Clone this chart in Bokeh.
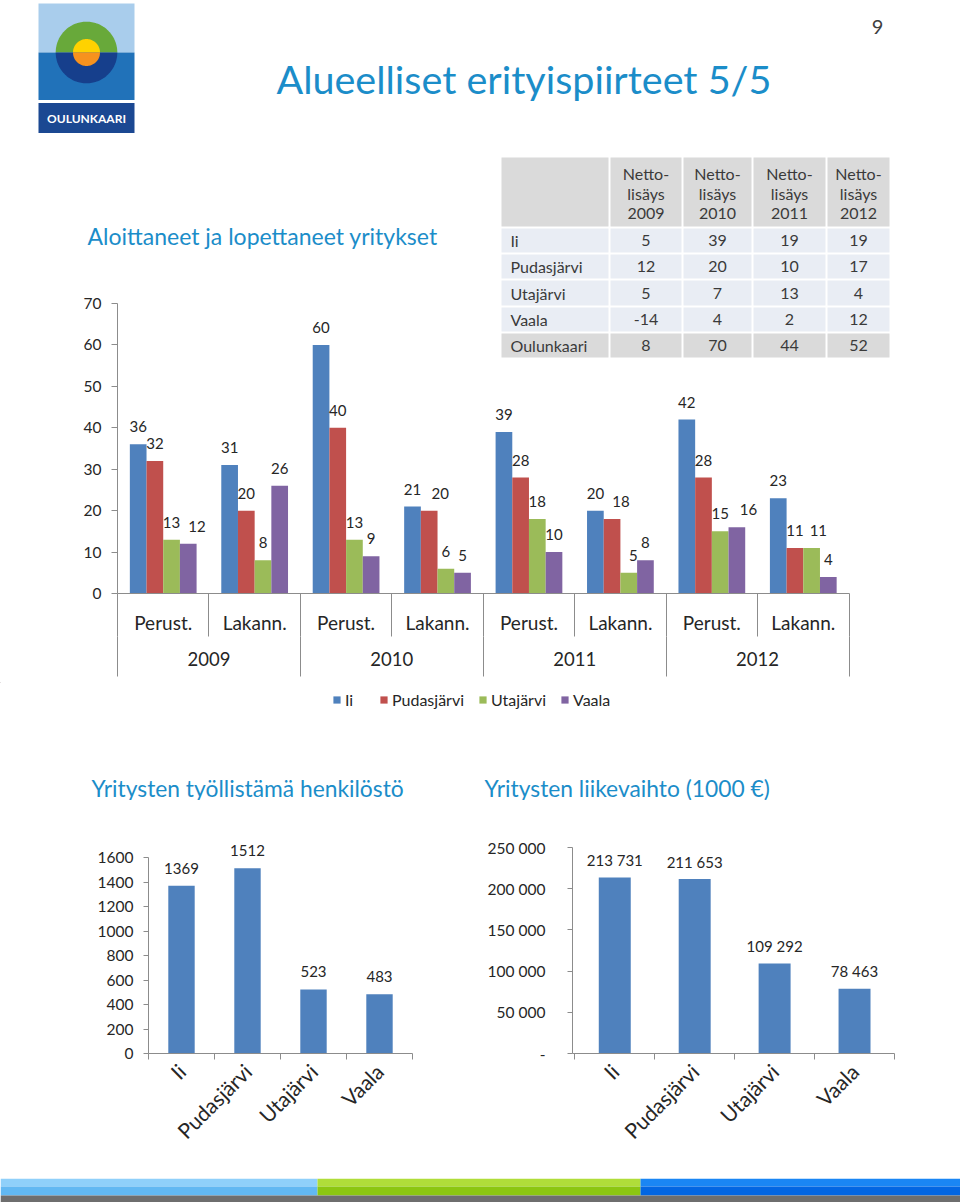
import numpy as np
from math import pi
from bokeh.plotting import figure
from bokeh.models import (Range1d, LinearAxis, FixedTicker, Legend, LegendItem, ColumnDataSource)
from bokeh.layouts import column, row
from bokeh.embed import file_html
from bokeh.resources import INLINE
from bokeh.core.properties import value

# ---------------------------------------------------------------- data
years = ["2009", "2010", "2011", "2012"]
event_types = ["Perust.", "Lakann."]
municipalities = ["Ii", "Pudasjärvi", "Utajärvi", "Vaala"]
# one value per (year, type) group: 2009 Perust., 2009 Lakann., 2010 Perust., ...
ii_counts = [36, 31, 60, 21, 39, 20, 42, 23]
pudasjarvi_counts = [32, 20, 40, 20, 28, 18, 28, 11]
utajarvi_counts = [13, 8, 13, 6, 18, 5, 15, 11]
vaala_counts = [12, 26, 9, 5, 10, 8, 16, 4]
main_y_ticks = [0, 10, 20, 30, 40, 50, 60, 70]

table_row_labels = ["Ii", "Pudasjärvi", "Utajärvi", "Vaala", "Oulunkaari"]
table_years = ["2009", "2010", "2011", "2012"]
netto_2009 = [5, 12, 5, -14, 8]
netto_2010 = [39, 20, 7, 4, 70]
netto_2011 = [19, 10, 13, 2, 44]
netto_2012 = [19, 17, 4, 12, 52]

employees = [1369, 1512, 523, 483]
employee_ticks = [0, 200, 400, 600, 800, 1000, 1200, 1400, 1600]
turnover = [213731, 211653, 109292, 78463]
turnover_ticks = [0, 50000, 100000, 150000, 200000, 250000]
turnover_tick_labels = ["-", "50 000", "100 000", "150 000", "200 000", "250 000"]

# ---------------------------------------------------------------- style / layout
FONT = "Lato"
TITLE_BLUE = "#1b8dc9"
TXT = "#262626"
TABLE_TXT = "#3a3a3a"
AXIS = "#8c8c8c"
series_colors = ["#4f81bd", "#c0504d", "#9bbb59", "#8064a2"]
PAGE_W = 960
# horizontal nudges (px) of crowded data labels, as in the original: (series, group) -> px
label_nudge = {(3, 0): 8.7, (1, 3): 11, (1, 5): 9, (2, 5): 4.7, (3, 6): 11.7, (2, 7): 6.7}


def base_fig(w, h, bl, br, bt, bb, xr, yr):
    p = figure(width=w, height=h, x_range=xr, y_range=yr, output_backend="svg",
               toolbar_location=None, x_axis_location=None, y_axis_location=None,
               min_border_left=bl, min_border_right=br, min_border_top=bt,
               min_border_bottom=bb)
    p.frame_align = False
    p.grid.visible = False
    p.outline_line_color = None
    p.border_fill_color = "white"
    p.background_fill_color = "white"
    return p


def pixel_fig(top, bottom):
    return base_fig(PAGE_W, bottom - top, 0, 0, 0, 0, Range1d(0, PAGE_W), Range1d(bottom, top))


def style_axis(ax, size, standoff):
    ax.axis_line_color = AXIS
    ax.major_tick_line_color = AXIS
    ax.minor_tick_line_color = AXIS
    ax.major_label_text_font = FONT
    ax.major_label_text_font_size = size
    ax.major_label_text_color = TXT
    ax.major_label_standoff = standoff
    ax.major_tick_in = 0
    ax.minor_tick_in = 0
    ax.minor_tick_out = 0


# ---------------------------------------------------------------- header
hdr = pixel_fig(0, 145)
hdr.quad(left=[38], right=[134], top=[3], bottom=[52], fill_color="#a9cdec", line_color=None)
hdr.quad(left=[38], right=[134], top=[52], bottom=[99.5], fill_color="#2172b9", line_color=None)
hdr.quad(left=[38], right=[134], top=[102.5], bottom=[132.5], fill_color="#1b4892", line_color=None)
cx, cy = 86, 52
th_up = np.linspace(0, pi, 80)
for r, c_up, c_dn in [(30.8, "#68a93a", "#163f8c"), (13.5, "#ffd200", "#f7921e")]:
    hdr.patch(list(cx + r * np.cos(th_up)), list(cy - r * np.sin(th_up)), fill_color=c_up, line_color=None)
    hdr.patch(list(cx + r * np.cos(th_up)), list(cy + r * np.sin(th_up)), fill_color=c_dn, line_color=None)
hdr.text(x=[86], y=[118], text=["OULUNKAARI"], text_align="center", text_baseline="middle",
         text_font=value(FONT), text_font_size="12px", text_font_style="bold", text_color="white")
hdr.text(x=[276], y=[78], text=["Alueelliset erityispiirteet 5/5"], text_align="left",
         text_baseline="middle", text_font=value(FONT), text_font_size="39.5px", text_color=TITLE_BLUE)
hdr.text(x=[877], y=[26], text=["9"], text_align="center", text_baseline="middle",
         text_font=value(FONT), text_font_size="20px", text_color="#404040")

# ---------------------------------------------------------------- table (split over two figures)
col_edges = [500, 609, 682, 752, 826, 890]
row_edges = [156, 227, 253, 279, 306, 332, 358]
col_centers = [(col_edges[i] + col_edges[i + 1]) / 2 for i in range(1, len(col_edges) - 1)]
row_centers = [(row_edges[i] + row_edges[i + 1]) / 2 for i in range(1, len(row_edges) - 1)]
table_values = [netto_2009, netto_2010, netto_2011, netto_2012]


def draw_table(p, rows, **rng):
    cells = dict(l=[], r=[], t=[], b=[], c=[])
    for ri in rows:
        for ci in range(len(col_edges) - 1):
            cells["l"].append(col_edges[ci] + 1)
            cells["r"].append(col_edges[ci + 1] - 1)
            cells["t"].append(row_edges[ri] + 1)
            cells["b"].append(row_edges[ri + 1] - 1)
            cells["c"].append("#dadada" if ri in (0, len(row_edges) - 2) else "#e9edf4")
    p.quad(left="l", right="r", top="t", bottom="b", fill_color="c", line_color=None,
           source=ColumnDataSource(cells), **rng)
    tx, ty, tt = [], [], []
    for ri in rows:
        if ri == 0:
            for cxx, yr_ in zip(col_centers, table_years):
                for yy, t in zip([173, 193, 213], ["Netto-", "lisäys", yr_]):
                    tx.append(cxx); ty.append(yy); tt.append(t)
            continue
        k = ri - 1
        yy = row_centers[k]
        p.text(x=[510], y=[yy], text=[table_row_labels[k]], text_align="left", text_baseline="middle",
               text_font=value(FONT), text_font_size="16px", text_color=TABLE_TXT, **rng)
        for cxx, col_vals in zip(col_centers, table_values):
            tx.append(cxx); ty.append(yy); tt.append(str(col_vals[k]))
    p.text(x=tx, y=ty, text=tt, text_align="center", text_baseline="middle",
           text_font=value(FONT), text_font_size="16px", text_color=TABLE_TXT, **rng)


top1 = pixel_fig(145, 279)
draw_table(top1, [0, 1, 2])
top1.text(x=[87], y=[235], text=["Aloittaneet ja lopettaneet yritykset"], text_align="left",
          text_baseline="middle", text_font=value(FONT), text_font_size="23px", text_color=TITLE_BLUE)

# ---------------------------------------------------------------- main grouped bar chart
P1_TOP, P1_BOT = 279, 682
F1_L, F1_R, F1_T, F1_B = 117, 895, 279, 593
Y70_PX = 303
XB_LAST = 848.5
n_groups = len(years) * len(event_types)
yppu = (F1_B - Y70_PX) / 70.0
xppu = (XB_LAST - F1_L) / n_groups
x1 = Range1d(-0.5, n_groups - 0.5 + (F1_R - XB_LAST) / xppu)
y1 = Range1d(0, (F1_B - F1_T) / yppu)
p1 = base_fig(PAGE_W, P1_BOT - P1_TOP, F1_L, PAGE_W - F1_R, F1_T - P1_TOP, P1_BOT - F1_B, x1, y1)
p1.extra_x_ranges = {"px": Range1d(F1_L, F1_R),
                     "yr": Range1d((x1.start - 0.5) / 2, (x1.end - 0.5) / 2)}
p1.extra_y_ranges = {"py": Range1d(F1_B, F1_T)}

draw_table(p1, [3, 4, 5], x_range_name="px", y_range_name="py")

bar_w = 0.1825
groups = np.arange(n_groups)
series = [ii_counts, pudasjarvi_counts, utajarvi_counts, vaala_counts]
for s, (vals, col) in enumerate(zip(series, series_colors)):
    src = ColumnDataSource(dict(x=groups + (s - 1.5) * bar_w, top=vals, label=[str(v) for v in vals],
                                dx=[label_nudge.get((s, g), 0) for g in range(n_groups)]))
    p1.vbar(x="x", top="top", width=bar_w, source=src, fill_color=col, line_color=None)
    p1.text(x="x", y="top", text="label", source=src, text_align="center", text_baseline="middle",
            x_offset="dx", y_offset=-17.5, text_font=value(FONT), text_font_size="15px", text_color=TXT)

ya = LinearAxis(ticker=FixedTicker(ticks=main_y_ticks), bounds=(0, 70))
style_axis(ya, "15.5px", 10)
ya.major_tick_out = 6
p1.add_layout(ya, "left")

xa = LinearAxis(ticker=FixedTicker(ticks=[int(g) for g in groups],
                                   minor_ticks=[float(g) - 0.5 for g in range(n_groups + 1)]),
                bounds=(-0.5, n_groups - 0.5))
style_axis(xa, "19px", -26)
xa.major_tick_out = 0
xa.minor_tick_out = 43
xa.major_label_overrides = {int(g): event_types[int(g) % 2] for g in groups}
p1.add_layout(xa, "below")

xb = LinearAxis(x_range_name="yr",
                ticker=FixedTicker(ticks=list(range(len(years))),
                                   minor_ticks=[i - 0.5 for i in range(len(years) + 1)]),
                bounds=(-0.5, len(years) - 0.5))
style_axis(xb, "18.5px", -25)
xb.axis_line_color = None
xb.major_tick_out = 0
xb.minor_tick_out = 40
xb.major_label_overrides = {i: y for i, y in enumerate(years)}
p1.add_layout(xb, "below")

# ---------------------------------------------------------------- legend strip
leg = pixel_fig(P1_BOT, 740)
# legend keys: one zero-height bar per series parked far outside the frame, used only for the swatch
key_renderers = [leg.vbar(x=[-5000], top=[0], width=1, fill_color=c, line_color=None) for c in series_colors]
legend = Legend(items=[LegendItem(label=m, renderers=[r]) for m, r in zip(municipalities, key_renderers)],
                orientation="horizontal", location=(332, 740 - 699 - 9.5), glyph_width=9, glyph_height=9,
                label_height=19, label_text_font=FONT, label_text_font_size="16px",
                label_text_color=TXT, label_standoff=4, spacing=14, padding=0, margin=0,
                border_line_color=None, background_fill_alpha=0)
leg.add_layout(legend)

# ---------------------------------------------------------------- bottom titles
ttl = pixel_fig(740, 800)
ttl.text(x=[91, 484], y=[787, 787],
         text=["Yritysten työllistämä henkilöstö", "Yritysten liikevaihto (1000 €)"],
         text_align="left", text_baseline="middle", text_font=value(FONT),
         text_font_size="22.8px", text_color=TITLE_BLUE)

# ---------------------------------------------------------------- bottom charts
B_TOP, B_BOT = 800, 1178
F_T, F_B = 800, 1053


def bottom_chart(fig_l, fig_r, frame_l, frame_r, first_boundary, vals, ticks, tick_labels,
                 top_px, top_val, standoff, label_fmt):
    ppu_x = (frame_r - first_boundary) / len(municipalities)
    xr = Range1d(-0.5 - (first_boundary - frame_l) / ppu_x, len(municipalities) - 0.5)
    ppu_y = (F_B - top_px) / top_val
    yr = Range1d(0, (F_B - F_T) / ppu_y)
    p = base_fig(fig_r - fig_l, B_BOT - B_TOP, frame_l - fig_l, fig_r - frame_r,
                 F_T - B_TOP, B_BOT - F_B, xr, yr)
    xs = list(range(len(municipalities)))
    src = ColumnDataSource(dict(x=xs, top=vals, label=[label_fmt(v) for v in vals]))
    p.vbar(x="x", top="top", width=0.4, source=src, fill_color=series_colors[0], line_color=None)
    p.text(x="x", y="top", text="label", source=src, text_align="center", text_baseline="middle",
           y_offset=-17.5, text_font=value(FONT), text_font_size="15px", text_color=TXT)
    yax = LinearAxis(ticker=FixedTicker(ticks=ticks), bounds=(ticks[0], ticks[-1]))
    style_axis(yax, "15.5px", standoff)
    yax.major_tick_out = 5
    yax.major_label_overrides = {t: l for t, l in zip(ticks, tick_labels)}
    p.add_layout(yax, "left")
    xax = LinearAxis(ticker=FixedTicker(ticks=xs, minor_ticks=[i - 0.5 for i in range(len(xs) + 1)]))
    style_axis(xax, "21px", 8)
    xax.major_tick_out = 0
    xax.minor_tick_out = 6
    xax.major_label_orientation = pi / 4
    xax.major_label_overrides = {i: m for i, m in enumerate(municipalities)}
    p.add_layout(xax, "below")
    return p


p2 = bottom_chart(0, 470, 148, 412, 148, employees, employee_ticks,
                  [str(t) for t in employee_ticks], 857, 1600, 10, lambda v: str(v))
p3 = bottom_chart(470, 960, 572, 894, 574.3, turnover, turnover_ticks, turnover_tick_labels,
                  847, 250000, 22, lambda v: f"{v:,}".replace(",", " "))

# ---------------------------------------------------------------- bottom strip
strip = pixel_fig(1178, 1202)
strip.quad(left=[0, 317, 640], right=[317, 640, 960], top=[1178] * 3, bottom=[1186] * 3,
           fill_color=["#8fd0fa", "#b0dd3a", "#1a86f4"], line_color=None)
strip.quad(left=[0, 317, 640], right=[317, 640, 960], top=[1186] * 3, bottom=[1195] * 3,
           fill_color=["#62b8f2", "#8cc612", "#0366e2"], line_color=None)
strip.quad(left=[0], right=[960], top=[1195], bottom=[1202], fill_color="#6e6e6e", line_color=None)

layout = column(hdr, top1, p1, leg, ttl, row(p2, p3), strip)
open("out.html", "w").write(file_html(layout, INLINE))
